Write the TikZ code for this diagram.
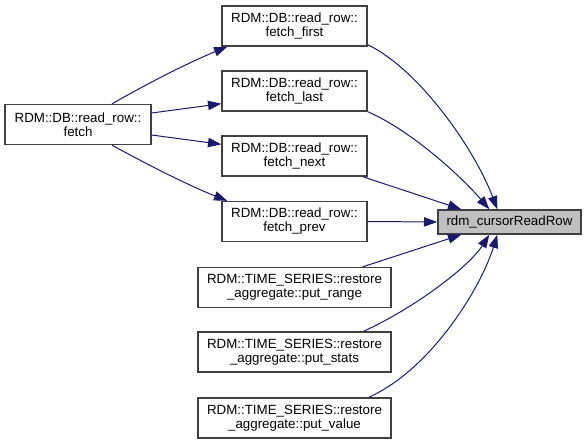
\documentclass[tikz,border=0pt]{standalone}
\usepackage{fontspec}
\setmainfont{Liberation Sans}
\usetikzlibrary{arrows.meta,calc}
\definecolor{edgec}{RGB}{25,25,112}
\definecolor{boxc}{RGB}{64,64,64}
\definecolor{hlfill}{RGB}{191,191,191}
\begin{document}
\begin{tikzpicture}[x=0.75pt,y=-0.75pt,
  fn/.style={draw=boxc,line width=1pt,fill=white,rectangle,inner sep=0pt,align=center,
    font=\fontsize{10pt}{10.5pt}\selectfont,minimum height=30pt},
  hl/.style={fn,fill=hlfill,minimum height=18pt},
  edge/.style={draw=edgec,line width=0.75pt,-{Triangle[length=10pt,width=7pt]}}]
\useasboundingbox (0,0) rectangle (587,444);
\node[fn,minimum width=109.5pt] (fetch) at (78,124.5) {RDM::DB::read\_row::\\fetch};
\node[fn,minimum width=108.75pt] (ff) at (294.5,26) {RDM::DB::read\_row::\\fetch\_first};
\node[fn,minimum width=108.75pt] (fl) at (294.5,91) {RDM::DB::read\_row::\\fetch\_last};
\node[fn,minimum width=108.75pt] (fnx) at (294.5,156) {RDM::DB::read\_row::\\fetch\_next};
\node[fn,minimum width=108.75pt] (fp) at (294.5,221.5) {RDM::DB::read\_row::\\fetch\_prev};
\node[hl,minimum width=107.25pt] (rdm) at (509.5,222) {rdm\_cursorReadRow};
\node[fn,minimum width=144.75pt] (pr) at (294.5,287.5) {RDM::TIME\_SERIES::restore\\\_aggregate::put\_range};
\node[fn,minimum width=144.75pt] (ps) at (294.5,352) {RDM::TIME\_SERIES::restore\\\_aggregate::put\_stats};
\node[fn,minimum width=144.75pt] (pv) at (294.5,418) {RDM::TIME\_SERIES::restore\\\_aggregate::put\_value};
% fetch -> fetch_*
\draw[edge] ($(fetch.north)+(34,0)$) .. controls (150,82) and (190,62) .. ($(ff.south west)+(6,0)$);
\draw[edge] ($(fetch.east)+(0,-11.5)$) -- ($(fl.south west)+(0,-8)$);
\draw[edge] ($(fetch.east)+(0,10.5)$) -- ($(fnx.north west)+(0,9)$);
\draw[edge] ($(fetch.south)+(34,0)$) .. controls (150,166) and (190,186) .. ($(fp.north west)+(6,0)$);
% * -> rdm
\draw[edge] ($(ff.south east)+(0,-2)$) .. controls (420,70) and (475,150) .. ($(rdm.north west)+(60,0)$);
\draw[edge] (fl.south east) .. controls (410,130) and (460,175) .. ($(rdm.north west)+(52,0)$);
\draw[edge] ($(fnx.south east)+(-5,0)$) -- ($(rdm.north west)+(24,0)$);
\draw[edge] (fp.east) -- (rdm.west);
\draw[edge] ($(pr.north east)+(-29,0)$) -- ($(rdm.south west)+(24,0)$);
\draw[edge] ($(ps.north east)+(-28,0)$) .. controls (420,305) and (470,265) .. ($(rdm.south west)+(52,0)$);
\draw[edge] ($(pv.north east)+(-23,0)$) .. controls (430,370) and (480,290) .. ($(rdm.south west)+(60,0)$);
\end{tikzpicture}
\end{document}
